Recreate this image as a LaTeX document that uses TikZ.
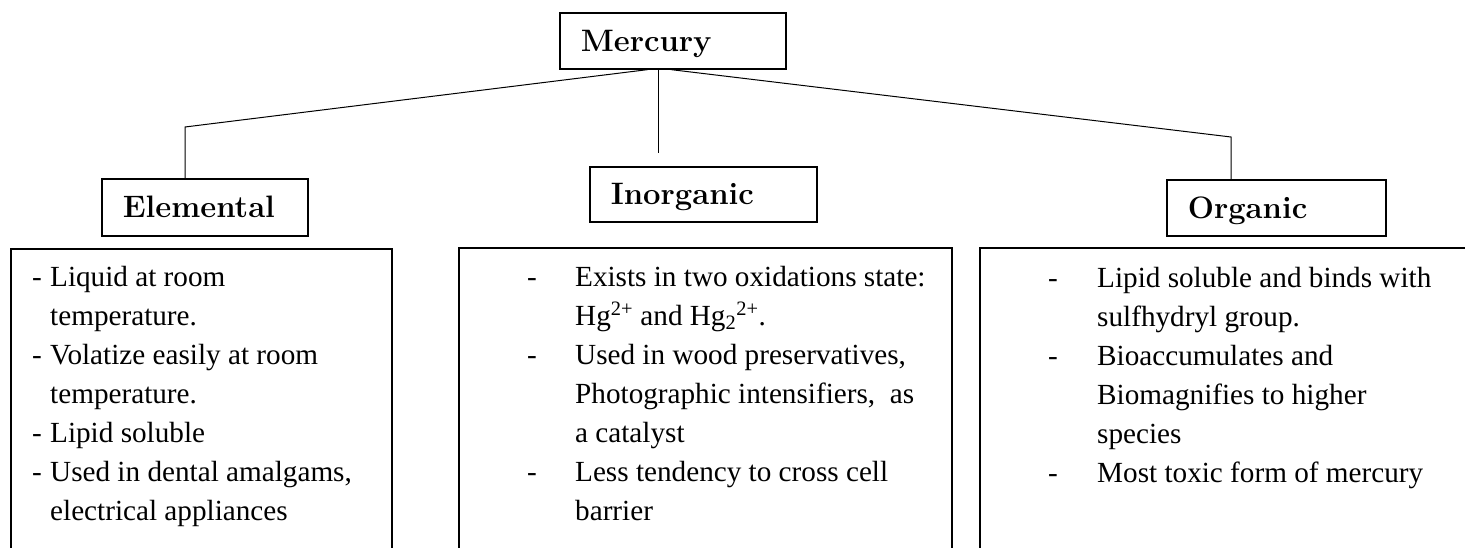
\documentclass[tikz,border=0pt]{standalone}
\usepackage{fontspec}
\newfontfamily\bodyfont{Liberation Serif}
\usetikzlibrary{positioning,calc}

\tikzset{
	head/.style={draw, line width=1.6pt, anchor=north west, inner xsep=21pt, inner ysep=0pt,
		font=\fontsize{31}{37}\selectfont\bfseries, text height=21.3pt, text depth=0pt, align=left},
	frame/.style={line width=1.6pt},
	link/.style={line width=1pt},
	facts/.style={anchor=base west, inner sep=0pt, align=left,
		font=\bodyfont\fontsize{29.2}{39}\selectfont},
}
% dash, then the text at a fixed indent
\newcommand{\dashitem}[2]{\makebox[#1][l]{-}#2}

\begin{document}
\begin{tikzpicture}[x=1pt, y=-1pt]
	
	\useasboundingbox (0,0) rectangle (1465,548);
	
	% heading boxes, placed by their top left corner
	\node[head, text width=184pt, minimum height=56pt] (merc) at (559,12) {Mercury};
	\node[head, text width=164pt, minimum height=57pt] (elem) at (101,178) {Elemental};
	\node[head, text width=185pt, minimum height=55pt] (inorg) at (589,166) {Inorganic};
	\node[head, text width=177pt, minimum height=56pt] (org) at (1166,179) {Organic};
	
	% bends of the branches, and the free end of the middle one
	\coordinate (bendL) at (185,127);
	\coordinate (bendR) at (1231,137);
	\coordinate (stub) at (658,153);
	
	\draw[link] ($(merc.south)+(-25,0)$) -- (bendL) -- (bendL |- elem.north);
	\draw[link] ($(merc.south)+(-2,0)$) -- (bendR) -- (bendR |- org.north);
	\draw[link] (stub |- merc.south) -- (stub);
	
	%%%%%%%%%%%%%%%%%%%%%%%%%%%%%%%%%%%%%%%%%%%%%%%%%%%%%%%%%%%%%%
	% open frames below the headings
	\draw[frame] (11,548) |- (392,249) -- (392,548);
	\draw[frame] (459,548) |- (952,248) -- (952,548);
	\draw[frame] (980,548) |- (1465,248);
	
	% lists, placed by the baseline of their last line
	\node[facts] (elemfacts) at (32,520) {%
		\dashitem{18pt}{Liquid at room}\\
		\hspace*{18pt}temperature.\\
		\dashitem{18pt}{Volatize easily at room}\\
		\hspace*{18pt}temperature.\\
		\dashitem{18pt}{Lipid soluble}\\
		\dashitem{18pt}{Used in dental amalgams,}\\
		\hspace*{18pt}electrical appliances};
	
	\node[facts] (inorgfacts) at (527,520) {%
		\dashitem{48pt}{Exists in two oxidations state:}\\
		\hspace*{48pt}Hg\textsuperscript{2+} and Hg\textsubscript{2}\textsuperscript{2+}.\\
		\dashitem{48pt}{Used in wood preservatives,}\\
		\hspace*{48pt}Photographic intensifiers,\ \ as\\
		\hspace*{48pt}a catalyst\\
		\dashitem{48pt}{Less tendency to cross cell}\\
		\hspace*{48pt}barrier};
	
	\node[facts] (orgfacts) at (1048,482) {%
		\dashitem{49pt}{Lipid soluble and binds with}\\
		\hspace*{49pt}sulfhydryl group.\\
		\dashitem{49pt}{Bioaccumulates and}\\
		\hspace*{49pt}Biomagnifies to higher\\
		\hspace*{49pt}species\\
		\dashitem{49pt}{Most toxic form of mercury}};
	
\end{tikzpicture}
\end{document}
